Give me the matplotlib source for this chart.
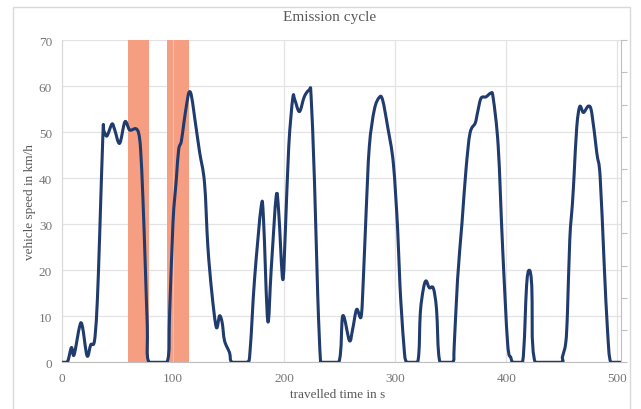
import numpy as np
import matplotlib
matplotlib.use('Agg')
import matplotlib.pyplot as plt
from matplotlib.patches import Rectangle, PathPatch
from matplotlib.path import Path

# travelled time in s
time = [0, 5, 8.7, 11.1, 16.2, 18.6, 22.8, 26.1, 28.8, 30.3, 32.1, 34.2, 37.1, 38.0,
        40.7, 45.2, 47.6, 52.1, 56.9, 61.1, 66.5, 69.2, 71.0, 73.1, 75.2, 77.0, 78.5,
        94.7, 97.1, 100.1, 103.1, 105.2, 107.6, 109.9, 112.1, 114.4, 116.6, 119.5,
        124.0, 128.5, 131.5, 135.1, 139.1, 142.0, 144.4, 146.5, 151.0, 153.4,
        166.9, 169.6, 173.5, 179.5, 181.6, 185.4, 188.5, 193.0, 195.3, 198.9, 201.3,
        204.3, 207.9, 209.7, 213.9, 218.4, 222.9, 224.4, 227.4, 230.4, 232.8, 234.3,
        249.3, 252.9, 258.9, 261.8, 265.4, 269.4, 271.4, 273.9, 276.8, 281.3, 285.8,
        288.8, 293.3, 298.4, 302.3, 304.4, 307.7, 310.4,
        320.3, 322.7, 325.4, 327.8, 330.8, 334.4, 337.3, 340.4,
        351.7, 353.2, 356.2, 360.2, 363.8, 367.4, 372.1, 374.2, 377.3, 381.8, 386.2,
        388.3, 392.8, 396.7, 401.2, 404.2, 406.3,
        414.7, 418.3, 420.7, 423.0, 426.1,
        449.1, 450.6, 453.6, 455.1, 457.2, 459.6, 461.1, 463.5, 466.2, 469.5, 474.0,
        477.0, 481.5, 484.5, 488.1, 491.1, 494.1, 503]

# vehicle speed in km/h
speed = [0, 0, 3.2, 1.6, 7.9, 7.8, 1.4, 3.8, 4.0, 6.5, 13.7, 28.1, 49.8, 50.2,
         49.2, 51.8, 50.6, 47.6, 52.3, 50.5, 50.8, 49.8, 46.2, 35.4, 20.9, 7.9, 0,
         0, 10.8, 30.3, 39.7, 46.2, 48.0, 52.0, 55.6, 58.6, 58.1, 53.4,
         45.8, 39.0, 25.2, 15.1, 7.6, 10.1, 8.6, 4.7, 2.1, 0,
         0, 2.9, 18.0, 33.9, 31.0, 9.0, 20.2, 36.1, 32.5, 18.0, 28.9,
         46.9, 57.4, 57.1, 54.5, 57.8, 59.2, 57.9, 39.7, 14.4, 0.6, 0,
         0, 10.1, 4.7, 7.2, 11.5, 9.9, 18.0, 32.5, 46.9, 54.9, 57.6,
         57.0, 51.2, 43.3, 28.9, 16.6, 4.3, 0,
         0, 10.8, 15.9, 17.7, 16.2, 16.1, 11.5, 0,
         0, 3.6, 18.0, 30.3, 41.9, 49.8, 52.0, 54.3, 57.4, 57.7, 58.5,
         57.4, 46.9, 25.2, 4.3, 1.0, 0,
         0, 16.6, 20.0, 16.6, 0,
         0, 1.2, 4.3, 10.8, 26.7, 34.6, 40.8, 51.2, 55.6, 54.3, 55.7,
         54.2, 45.5, 40.4, 21.6, 7.2, 0, 0]

# highlighted intervals (start, end) in s
events = [(60, 78.3), (95, 114.6)]

title = "Emission cycle"
xlabel = "travelled time in s"
ylabel = "vehicle speed in km/h"

plt.rcParams['font.family'] = ['Liberation Serif', 'DejaVu Serif']
txt_color = '#767676'
grid_color = '#E3E3E3'
line_color = '#203B6E'
bar_color = '#F59E82'


def smooth_path(x, y, k=1/6):
    # spreadsheet style smoothed line: cubic bezier segments through the points
    pts = np.column_stack([x, y]).astype(float)
    n = len(pts)
    verts = [pts[0]]
    codes = [Path.MOVETO]
    for i in range(n - 1):
        p0 = pts[i - 1] if i > 0 else pts[i]
        p1, p2 = pts[i], pts[i + 1]
        p3 = pts[i + 2] if i + 2 < n else pts[i + 1]
        c1 = p1 + (p2 - p0) * k
        c2 = p2 - (p3 - p1) * k
        c1[1] = max(c1[1], 0)
        c2[1] = max(c2[1], 0)
        verts += [c1, c2, p2]
        codes += [Path.CURVE4] * 3
    return Path(verts, codes)


fig = plt.figure(figsize=(6.41, 4.10), dpi=100)
ax = fig.add_axes([0.0963, 0.1139, 0.872, 0.7854])

# chart border
fig.add_artist(Rectangle((13/641, -0.02), 617/641, 1 - 8/410 + 0.02, fill=False,
                         ec='#D9D9D9', lw=1.0, transform=fig.transFigure))

for a, b in events:
    ax.axvspan(a, b, color=bar_color, lw=0, zorder=2)
ax.axvline(100, color='#F7BDAA', lw=0.8, zorder=2.5)

ax.add_patch(PathPatch(smooth_path(time, speed), fc='none', ec=line_color, lw=2.2,
                       joinstyle='round', capstyle='round', zorder=3))

ax.set_xlim(0, 503)
ax.set_ylim(0, 70)
ax.set_xticks(np.arange(0, 501, 100))
ax.set_yticks(np.arange(0, 71, 10))
ax.grid(True, color=grid_color, lw=0.9, zorder=0)
ax.set_axisbelow(True)
ax.tick_params(length=0, labelsize=9.5, colors=txt_color, pad=7)

ax.spines['top'].set_visible(False)
ax.spines['left'].set_color('#D9D9D9')
ax.spines['bottom'].set_color('#BFBFBF')
ax.spines['right'].set_visible(False)

# secondary axis with tick marks only
ax2 = ax.twinx()
ax2.set_ylim(0, 10)
ax2.set_yticks(np.arange(0, 11, 1))
ax2.tick_params(labelright=False, length=4, color='#BFBFBF', width=0.8)
for s in ['top', 'left', 'bottom']:
    ax2.spines[s].set_visible(False)
ax2.spines['right'].set_color('#BFBFBF')

fig.text(330/641, 1 - 18/410, title, ha='center', va='center',
         fontsize=11, color='#595959')
fig.text(338/641, 1 - 395/410, xlabel, ha='center', va='center',
         fontsize=9.5, color='#595959')
fig.text(30/641, 1 - 202/410, ylabel, ha='center', va='center',
         rotation=90, fontsize=9.5, color='#595959')

fig.savefig('out.png', dpi=100)
